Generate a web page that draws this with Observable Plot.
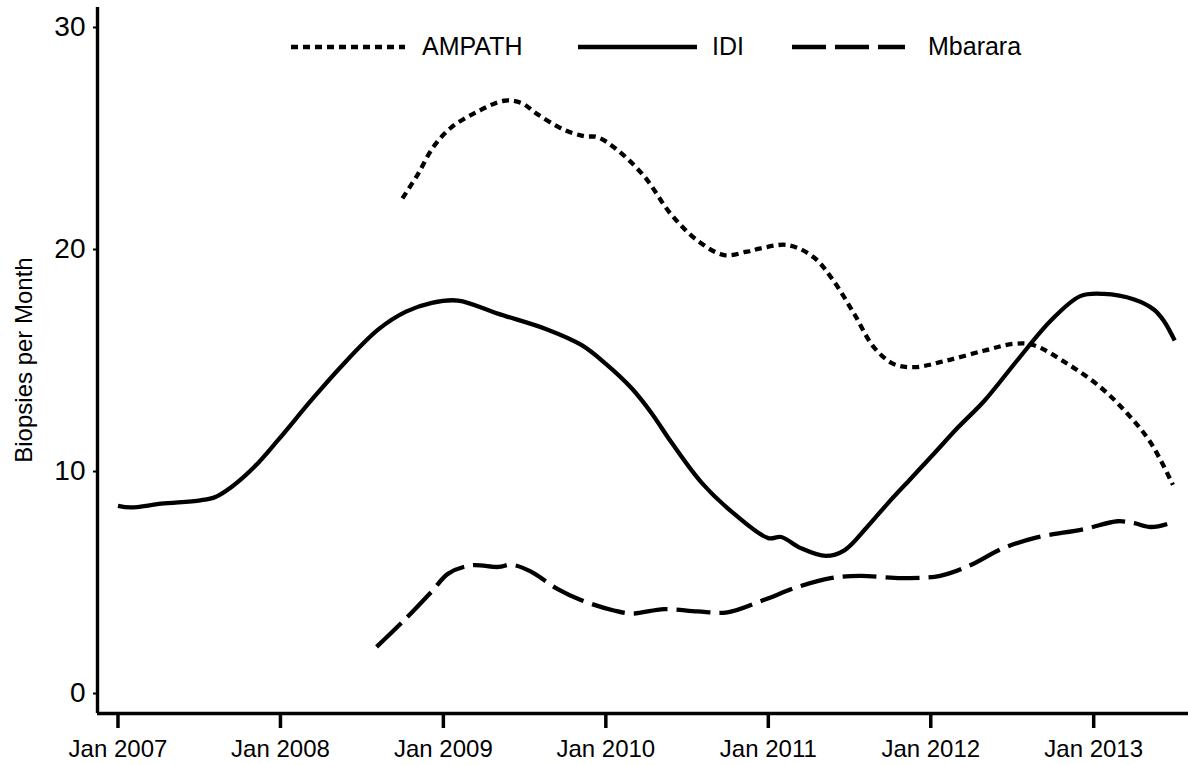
<!DOCTYPE html>
<html>
<head>
<meta charset="utf-8">
<script src="https://cdn.jsdelivr.net/npm/d3@7"></script>
<script src="https://cdn.jsdelivr.net/npm/@observablehq/plot@0.6"></script>
<style>
  html, body { margin: 0; padding: 0; background: #fff; }
  body { font-family: "Liberation Sans", Arial, sans-serif; color: #000; }
  #wrap { position: relative; width: 1188px; height: 765px; overflow: hidden; }
  #legend { position: absolute; left: 0; top: 0; width: 1188px; height: 80px; pointer-events: none; }
  .lg-line { position: absolute; top: 42px; height: 10px; overflow: visible; }
  .lg-text { position: absolute; top: 31px; font-size: 25px; line-height: 30px; white-space: nowrap; }
  #ylabel { position: absolute; left: 24px; top: 360px; transform: translate(-50%, -50%) rotate(-90deg);
            font-size: 24px; line-height: 26px; white-space: nowrap; }
</style>
</head>
<body>
<div id="wrap"><div id="legend"></div><div id="ylabel"></div></div>
<script>
// ---- data ----
const seriesNames = ["AMPATH", "IDI", "Mbarara"];

const ampathDates = ["2008-10-01","2008-11-05","2008-12-09","2009-01-19","2009-03-18","2009-05-17","2009-06-25","2009-07-31","2009-09-28","2009-11-14","2009-12-13","2010-01-26","2010-03-28","2010-05-27","2010-07-26","2010-09-24","2010-11-14","2010-12-15","2011-02-14","2011-04-13","2011-05-27","2011-07-13","2011-08-26","2011-10-09","2011-11-25","2012-02-06","2012-05-01","2012-07-05","2012-08-18","2012-11-03","2013-01-16","2013-03-18","2013-05-09","2013-06-28"];
const ampathValues = [22.3,23.4,24.6,25.5,26.2,26.7,26.6,26.1,25.4,25.1,25.06,24.5,23.3,21.6,20.4,19.75,19.9,20.05,20.2,19.65,18.6,17.1,15.6,14.85,14.7,15.0,15.45,15.75,15.7,14.85,13.8,12.6,11.3,9.4];

const idiDates = ["2007-01-01","2007-01-30","2007-04-08","2007-07-05","2007-08-08","2007-09-13","2007-11-03","2007-12-26","2008-03-10","2008-05-15","2008-08-08","2008-10-09","2008-12-06","2009-02-03","2009-05-05","2009-08-22","2009-11-07","2010-01-01","2010-02-28","2010-04-13","2010-05-27","2010-08-04","2010-10-16","2011-01-01","2011-01-30","2011-03-15","2011-05-10","2011-06-21","2011-08-11","2011-09-28","2011-11-18","2012-01-08","2012-03-03","2012-05-01","2012-07-13","2012-09-27","2012-12-02","2013-01-23","2013-04-02","2013-05-16","2013-06-07","2013-07-02"];
const idiValues = [8.45,8.38,8.55,8.7,8.85,9.3,10.2,11.4,13.2,14.7,16.4,17.2,17.6,17.7,17.1,16.4,15.7,14.85,13.75,12.65,11.35,9.5,8.1,7.0,7.05,6.55,6.2,6.45,7.5,8.6,9.7,10.8,12.0,13.2,15.0,16.8,17.9,18.0,17.75,17.3,16.8,15.9];

const mbararaDates = ["2008-08-04","2008-10-05","2008-12-06","2009-01-12","2009-03-04","2009-05-05","2009-06-03","2009-07-16","2009-09-15","2009-11-07","2010-01-19","2010-02-28","2010-05-12","2010-07-26","2010-10-01","2010-12-20","2011-03-08","2011-05-21","2011-07-27","2011-10-27","2012-01-22","2012-04-01","2012-06-07","2012-08-20","2012-12-09","2013-02-24","2013-04-02","2013-05-09","2013-06-17","2013-06-28"];
const mbararaValues = [2.1,3.3,4.6,5.4,5.77,5.7,5.8,5.5,4.7,4.2,3.74,3.6,3.8,3.7,3.66,4.2,4.8,5.2,5.3,5.2,5.3,5.8,6.5,7.0,7.4,7.76,7.67,7.5,7.65,7.75];

const xTickDates = ["2007-01-01","2008-01-01","2009-01-01","2010-01-01","2011-01-01","2012-01-01","2013-01-01"];
const yTickValues = [0, 10, 20, 30];
const xDomainDates = ["2006-11-16", "2013-08-02"];
const yDomainValues = [-0.9, 30.9];
const yLabel = "Biopsies per Month";

// ---- build table ----
const parse = d3.utcParse("%Y-%m-%d");
const rows = [];
[[seriesNames[0], ampathDates, ampathValues],
 [seriesNames[1], idiDates, idiValues],
 [seriesNames[2], mbararaDates, mbararaValues]].forEach(([name, ds, vs]) => {
  ds.forEach((d, i) => rows.push({series: name, date: parse(d), value: vs[i]}));
});

const dashes = {AMPATH: "7,5", IDI: "none", Mbarara: "34,9"};
const font = "'Liberation Sans', Arial, Helvetica, sans-serif";
const xDomain = xDomainDates.map(parse);

const chart = Plot.plot({
  width: 1188,
  height: 765,
  marginLeft: 97,
  marginRight: 0,
  marginTop: 7,
  marginBottom: 52,
  style: {fontFamily: font, background: "#fff", color: "#000", overflow: "visible"},
  x: {type: "utc", domain: xDomain},
  y: {domain: yDomainValues},
  marks: [
    ...seriesNames.map(s => Plot.line(rows.filter(r => r.series === s), {
      x: "date", y: "value", stroke: "#000", strokeWidth: 4.3,
      strokeDasharray: dashes[s], curve: "catmull-rom", strokeLinecap: "butt"
    })),
    Plot.axisX({
      ticks: xTickDates.map(parse), tickFormat: d3.utcFormat("%b %Y"),
      tickSize: 15, tickPadding: 11, fontSize: 24, strokeWidth: 3.5, label: null
    }),
    Plot.axisY({
      ticks: yTickValues, tickSize: 4, tickPadding: 8, fontSize: 28, strokeWidth: 2, label: null
    }),
    Plot.ruleX([xDomain[0]], {stroke: "#000", strokeWidth: 3.4}),
    Plot.ruleY([yDomainValues[0]], {stroke: "#000", strokeWidth: 3.4})
  ]
});
document.getElementById("wrap").prepend(chart);
document.getElementById("ylabel").textContent = yLabel;

// ---- legend overlay (inside the panel, as in the reference) ----
const legendLayout = [
  {name: "AMPATH", lineX: 291, lineW: 114, textX: 422},
  {name: "IDI", lineX: 578, lineW: 119, textX: 712},
  {name: "Mbarara", lineX: 792, lineW: 113, textX: 928}
];
const legend = document.getElementById("legend");
legendLayout.forEach(item => {
  const svg = d3.create("svg").attr("class", "lg-line")
    .attr("width", item.lineW).attr("height", 10)
    .style("left", item.lineX + "px");
  svg.append("line").attr("x1", 0).attr("x2", item.lineW).attr("y1", 5).attr("y2", 5)
    .attr("stroke", "#000").attr("stroke-width", 4.3)
    .attr("stroke-dasharray", dashes[item.name]);
  legend.appendChild(svg.node());
  const t = document.createElement("div");
  t.className = "lg-text";
  t.style.left = item.textX + "px";
  t.textContent = item.name;
  legend.appendChild(t);
});
</script>
</body>
</html>
